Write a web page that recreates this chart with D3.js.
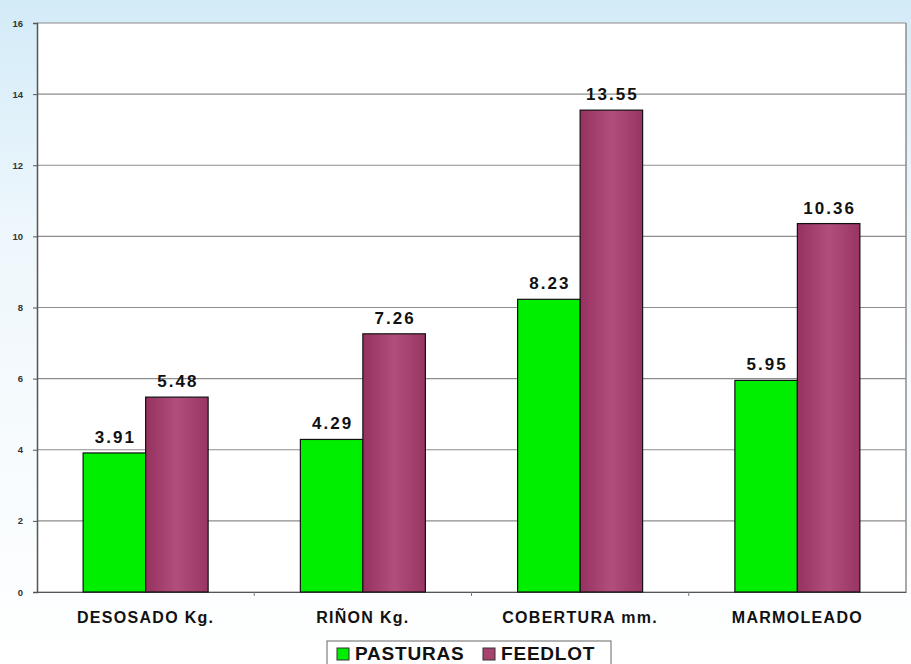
<!DOCTYPE html>
<html><head><meta charset="utf-8">
<script src="https://cdn.jsdelivr.net/npm/d3@7"></script>
<style>body{margin:0;background:#fff;}svg{display:block;}</style>
</head><body>
<svg id="c" width="911" height="664"></svg>
<script>
const categories = ["DESOSADO Kg.", "RIÑON Kg.", "COBERTURA mm.", "MARMOLEADO"];
const seriesNames = ["PASTURAS", "FEEDLOT"];
const pasturas = [3.91, 4.29, 8.23, 5.95];
const feedlot = [5.48, 7.26, 13.55, 10.36];
const yTicks = [0, 2, 4, 6, 8, 10, 12, 14, 16];
const colors = ["#00ee00", "#a8436f"];

const svg = d3.select("#c");
const defs = svg.append("defs");
const bg = defs.append("linearGradient").attr("id","bg").attr("x1","0").attr("y1","0").attr("x2","0").attr("y2","1");
bg.append("stop").attr("offset","0").attr("stop-color","#d3ebf8");
bg.append("stop").attr("offset","0.35").attr("stop-color","#eef7fc");
bg.append("stop").attr("offset","1").attr("stop-color","#ffffff");
const pg = defs.append("linearGradient").attr("id","pg").attr("x1","0").attr("y1","0").attr("x2","1").attr("y2","0");
pg.append("stop").attr("offset","0").attr("stop-color","#96325f");
pg.append("stop").attr("offset","0.5").attr("stop-color","#b24e7c");
pg.append("stop").attr("offset","1").attr("stop-color","#983562");

svg.append("rect").attr("width",911).attr("height",664).attr("fill","url(#bg)");

const m = {l:37, r:906, t:23, b:592};
svg.append("rect").attr("x",m.l).attr("y",m.t).attr("width",m.r-m.l).attr("height",m.b-m.t).attr("fill","#fff");

const x0 = d3.scaleBand().domain(categories).range([m.l, m.r]).paddingInner(0).paddingOuter(0);
const x1 = d3.scaleBand().domain(seriesNames).range([0, 125]);
const y = d3.scaleLinear().domain([0,16]).range([m.b, m.t]);

const font = "Liberation Sans, Arial, sans-serif";

// grid
svg.append("g").selectAll("line").data(yTicks).join("line")
  .attr("x1",m.l).attr("x2",m.r).attr("y1",d=>y(d)).attr("y2",d=>y(d))
  .attr("stroke","#8c8c8c").attr("stroke-width",1.2);

// y axis
const ya = svg.append("g").attr("transform",`translate(${m.l},0)`)
  .call(d3.axisLeft(y).tickValues(yTicks).tickSize(4).tickPadding(10));
ya.select(".domain").attr("stroke","#555").attr("stroke-width",1.5);
ya.selectAll(".tick line").attr("stroke","#555");
ya.selectAll("text").attr("font-family",font).attr("font-size",9.5).attr("font-weight","bold").attr("fill","#333");
// right border
svg.append("line").attr("x1",m.r).attr("x2",m.r).attr("y1",m.t).attr("y2",m.b).attr("stroke","#8c8c8c").attr("stroke-width",1.5);

// x axis
const xa = svg.append("g").attr("transform",`translate(0,${m.b})`)
  .call(d3.axisBottom(x0).tickSize(0).tickPadding(20));
xa.select(".domain").attr("stroke","#555").attr("stroke-width",1.2);
xa.selectAll("text").attr("font-family",font).attr("font-size",16).attr("font-weight","bold")
  .attr("letter-spacing","1.3px").attr("fill","#111");
svg.append("g").selectAll("line").data(categories.slice(1)).join("line")
  .attr("x1",d=>x0(d)).attr("x2",d=>x0(d)).attr("y1",m.b).attr("y2",m.b+4).attr("stroke","#777");

const data = categories.map((c,i)=>({cat:c, vals:[pasturas[i], feedlot[i]]}));
const g = svg.append("g");
data.forEach(d=>{
  const off = x0(d.cat) + (x0.bandwidth()-125)/2;
  d.vals.forEach((v,j)=>{
    const bx = off + x1(seriesNames[j]);
    g.append("rect").attr("x",bx).attr("y",y(v)).attr("width",x1.bandwidth()).attr("height",y(0)-y(v))
      .attr("fill", j===0 ? colors[0] : "url(#pg)").attr("stroke","#111").attr("stroke-width",1.2);
    g.append("text").attr("x",bx+x1.bandwidth()/2 + 1).attr("y",y(v)-10).attr("text-anchor","middle")
      .attr("font-family",font).attr("font-size",17).attr("font-weight","bold").attr("letter-spacing","2px")
      .attr("fill","#111").text(v.toFixed(2));
  });
});

// legend
const lg = svg.append("g");
lg.append("rect").attr("x",327).attr("y",641).attr("width",284).attr("height",30).attr("fill","#fff").attr("stroke","#666").attr("stroke-width",1);
const items = [{n:"PASTURAS", x:337, c:colors[0]},{n:"FEEDLOT", x:483, c:colors[1]}];
items.forEach(it=>{
  lg.append("rect").attr("x",it.x).attr("y",648).attr("width",12).attr("height",12).attr("fill",it.c).attr("stroke","#333").attr("stroke-width",1);
  lg.append("text").attr("x",it.x+18).attr("y",660).attr("font-family",font)
    .attr("font-size",19).attr("font-weight","bold").attr("letter-spacing","0.8px").attr("fill","#111").text(it.n);
});
</script>
</body></html>
